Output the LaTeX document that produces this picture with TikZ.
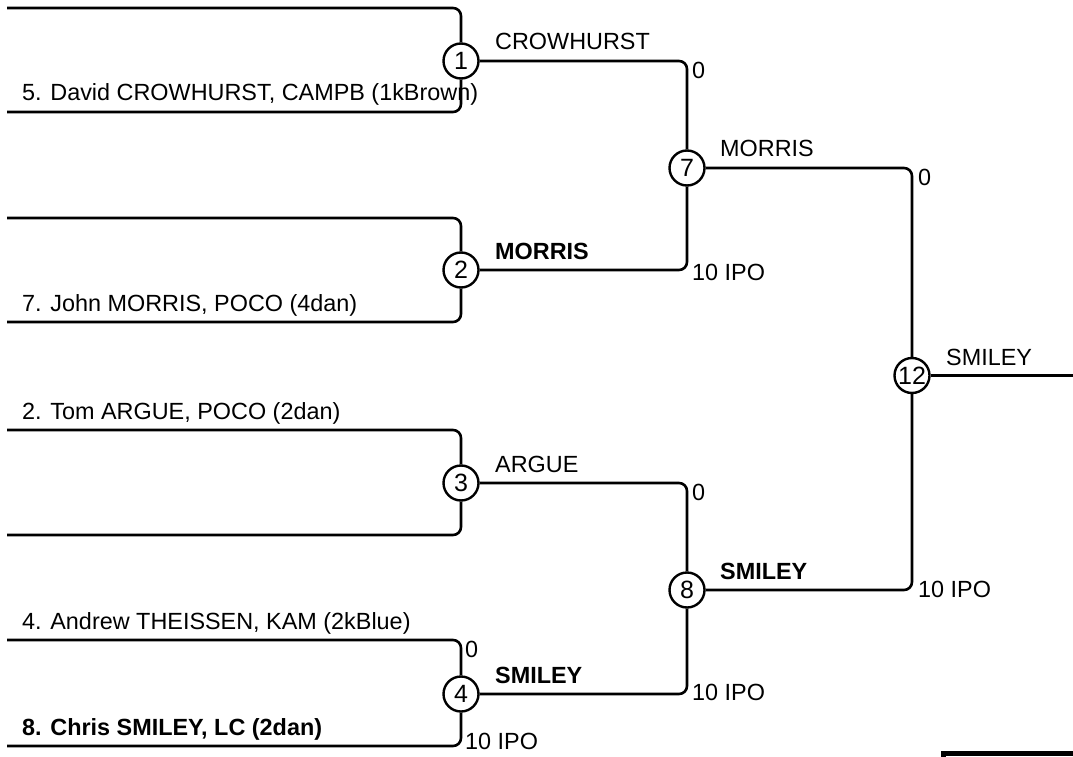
\documentclass[tikz,border=0pt]{standalone}
\usepackage{fontspec}
\setmainfont{Liberation Sans}
\usetikzlibrary{positioning}

\begin{document}
\begin{tikzpicture}[x=1pt,y=-1pt,
seed/.style={draw,circle,line width=2.4pt,minimum size=35pt,inner sep=0pt,font=\fontsize{25}{28}\selectfont},
wire/.style={line width=2.6pt,rounded corners=8pt},
entrant/.style={anchor=base west,inner sep=0pt},
score/.style={anchor=west,inner sep=0pt}]
\fontsize{23.4}{28}\selectfont
\useasboundingbox (0,0) rectangle (1073,757);

% rounds
\node (m1) [seed] at (461,61) {1};
\node (m2) [seed] at (461,270) {2};
\node (m3) [seed] at (461,483) {3};
\node (m4) [seed] at (461,694) {4};
\node (m7) [seed] at (687,168) {7};
\node (m8) [seed] at (687,590) {8};
\node (m12) [seed] at (912,375.5) {12};

% entrant lines
\coordinate (e1) at (7,8);
\coordinate (e5) at (7,112);
\coordinate (e2) at (7,218);
\coordinate (e7) at (7,322);
\coordinate (e3) at (7,430);
\coordinate (e6) at (7,535);
\coordinate (e4) at (7,640);
\coordinate (e8) at (7,746);
\coordinate (final) at (1073,375.5);

\draw [wire] (e1) -| (m1);
\draw [wire] (e5) -| (m1);
\draw [wire] (e2) -| (m2);
\draw [wire] (e7) -| (m2);
\draw [wire] (e3) -| (m3);
\draw [wire] (e6) -| (m3);
\draw [wire] (e4) -| (m4);
\draw [wire] (e8) -| (m4);
\draw [wire] (m1) -| (m7);
\draw [wire] (m2) -| (m7);
\draw [wire] (m3) -| (m8);
\draw [wire] (m4) -| (m8);
\draw [wire] (m7) -| (m12);
\draw [wire] (m8) -| (m12);
\draw [wire] (m12) -- (final);

% names
\node (n5) [entrant] at (22,101) {5. David CROWHURST, CAMPB (1kBrown)};
\node (n7) [entrant] at (22,311) {7. John MORRIS, POCO (4dan)};
\node (n2) [entrant] at (22,419) {2. Tom ARGUE, POCO (2dan)};
\node (n4) [entrant] at (22,629) {4. Andrew THEISSEN, KAM (2kBlue)};
\node (n8) [entrant] at (22,735) {\bfseries 8. Chris SMILEY, LC (2dan)};

% winners
\node (w1) [entrant] at (495,50) {CROWHURST};
\node (w2) [entrant] at (495,259) {\bfseries MORRIS};
\node (w3) [entrant] at (495,472) {ARGUE};
\node (w4) [entrant] at (495,683) {\bfseries SMILEY};
\node (w7) [entrant] at (720,157) {MORRIS};
\node (w8) [entrant] at (720,579) {\bfseries SMILEY};
\node (w12) [entrant] at (946,365) {SMILEY};

% scores
\node (s1) [score] at (692,70) {0};
\node (s2) [score] at (692,272) {10 IPO};
\node (s3) [score] at (692,492) {0};
\node (s4a) [score] at (465,649) {0};
\node (s4b) [score] at (465,741) {10 IPO};
\node (s4) [score] at (692,692) {10 IPO};
\node (s7) [score] at (918,177) {0};
\node (s8) [score] at (918,589) {10 IPO};

\draw [line width=5pt] (943.5,762) |- (1080,753.5);
\end{tikzpicture}
\end{document}
